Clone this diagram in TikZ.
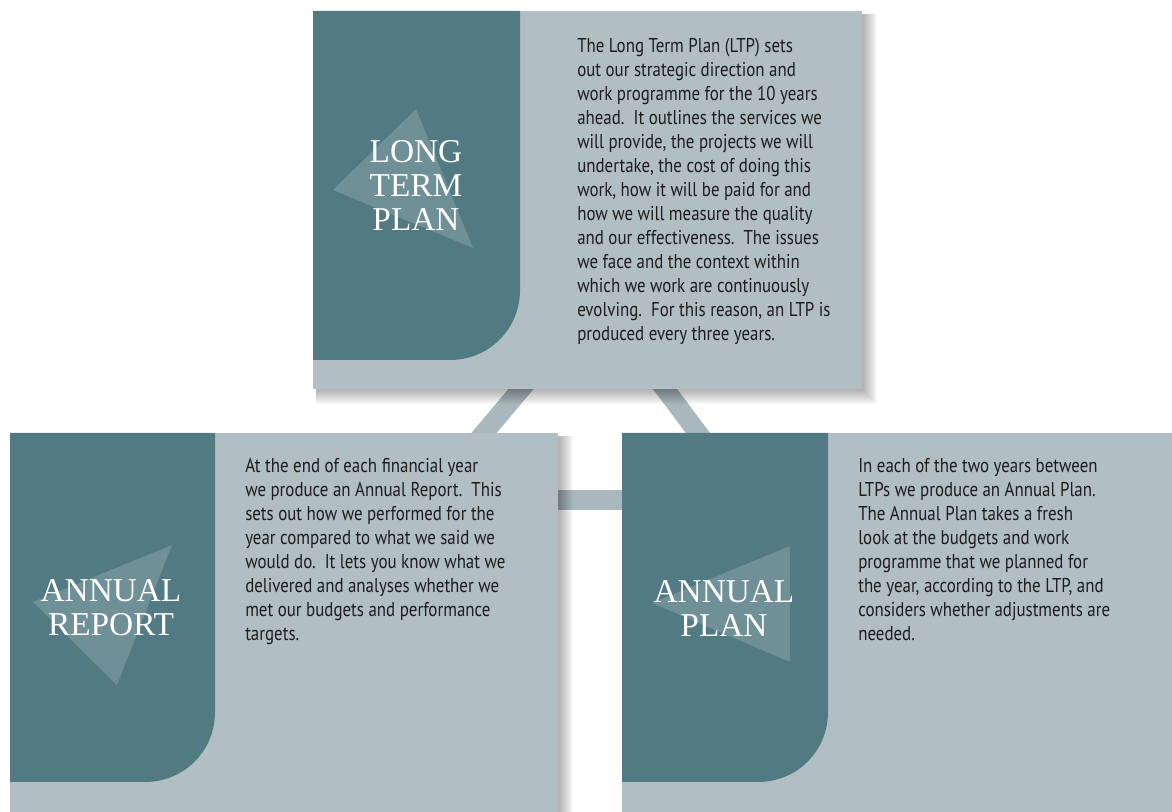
\documentclass[tikz,border=0pt]{standalone}
\usepackage{fontspec}
\setmainfont{PT Sans}[FakeStretch=0.845]
\newfontfamily\titlefont{Liberation Serif}
\usetikzlibrary{calc}
\definecolor{panelteal}{HTML}{527A82}
\definecolor{boxgrey}{HTML}{B1BEC4}
\definecolor{linkgrey}{HTML}{A9B8BE}
\definecolor{bodyink}{HTML}{1E1C1D}
\pgfdeclarelayer{bg}
\pgfsetlayers{bg,main}
\begin{document}
\begin{tikzpicture}[x=0.75pt,y=-0.75pt,
  box/.style={rectangle,fill=boxgrey,inner sep=0pt,outer sep=0pt,anchor=north west},
  panel/.style={fill=panelteal},
  arrowhint/.style={fill=white,fill opacity=0.17},
  title/.style={text=white,align=center,font=\titlefont\fontsize{25pt}{25.5pt}\selectfont},
  body/.style={text=bodyink,inner sep=0pt,anchor=base west,font=\fontsize{15pt}{18pt}\selectfont},
  link/.style={draw=linkgrey,line width=14.5pt}]
\useasboundingbox (0,0) rectangle (1172,812);
\clip (0,0) rectangle (1172,812);

% the three plan boxes
\node[box,minimum width=411.75pt,minimum height=283.5pt] (ltp) at (313,11) {};
\node[box,minimum width=411pt,minimum height=300pt] (ar) at (10,433) {};
\node[box,minimum width=420pt,minimum height=300pt] (ap) at (622,433) {};

% connector end points on the box edges
\coordinate (ltpL) at ($(ltp.south west)+(208,0)$);
\coordinate (ltpR) at ($(ltp.south west)+(352,0)$);
\coordinate (arT)  at ($(ar.north west)+(474,0)$);
\coordinate (apT)  at ($(ap.north west)+(76,0)$);
\coordinate (arE)  at ($(ar.north east)+(0,67)$);
\coordinate (apW)  at ($(ap.north west)+(0,67)$);

\begin{pgfonlayer}{bg}
  % connectors run behind the boxes
  \draw[link,shorten <=-10pt,shorten >=-10pt] (ltpL) -- (arT);
  \draw[link,shorten <=-10pt,shorten >=-10pt] (ltpR) -- (apT);
  \draw[link,line width=15pt,shorten <=-10pt,shorten >=-10pt] (arE) -- (apW);
  % soft drop shadows
  \foreach \b in {ltp,ar,ap}{
    \foreach \k in {1,...,15}{
      \fill[black,opacity=0.022] ($(\b.north west)+(3,3)$) rectangle ($(\b.south east)+(\k,\k)$);
    }
  }
\end{pgfonlayer}

% dark title panels with a rounded lower corner
\fill[panel] (313,11) -- (520,11) -- (520,290) .. controls (520,329) and (489,360) .. (450,360) -- (313,360) -- cycle;
\fill[panel] (10,433) -- (215,433) -- (215,712) .. controls (215,751) and (184,782) .. (145,782) -- (10,782) -- cycle;
\fill[panel] (622,433) -- (828,433) -- (828,712) .. controls (828,751) and (797,782) .. (758,782) -- (622,782) -- cycle;

% pale triangles behind the titles
\fill[arrowhint] (416,109) -- (333,190) -- (473,248) -- cycle;
\fill[arrowhint] (172,545) -- (33,602) -- (117,685) -- cycle;
\fill[arrowhint] (790,546) -- (652,603) -- (790,662) -- cycle;

% titles
\node[title] (ltpTitle) at (416,185) {LONG\\TERM\\PLAN};
\node[title] (arTitle) at (111,608) {ANNUAL\\REPORT};
\node[title] (apTitle) at (724,608) {ANNUAL\\PLAN};

% descriptions
\node[body] (ltpText) at (577,53) {\begin{tabular}[t]{@{}l@{}}
The Long Term Plan (LTP) sets\\
out our strategic direction and\\
work programme for the 10 years\\
ahead.\ \ It outlines the services we\\
will provide, the projects we will\\
undertake, the cost of doing this\\
work, how it will be paid for and\\
how we will measure the quality\\
and our effectiveness.\ \ The issues\\
we face and the context within\\
which we work are continuously\\
evolving.\ \ For this reason, an LTP is\\
produced every three years.
\end{tabular}};

\node[body] (arText) at (245,473) {\begin{tabular}[t]{@{}l@{}}
At the end of each financial year\\
we produce an Annual Report.\ \ This\\
sets out how we performed for the\\
year compared to what we said we\\
would do.\ \ It lets you know what we\\
delivered and analyses whether we\\
met our budgets and performance\\
targets.
\end{tabular}};

\node[body] (apText) at (858,473) {\begin{tabular}[t]{@{}l@{}}
In each of the two years between\\
LTPs we produce an Annual Plan.\\
The Annual Plan takes a fresh\\
look at the budgets and work\\
programme that we planned for\\
the year, according to the LTP, and\\
considers whether adjustments are\\
needed.
\end{tabular}};
\end{tikzpicture}
\end{document}
